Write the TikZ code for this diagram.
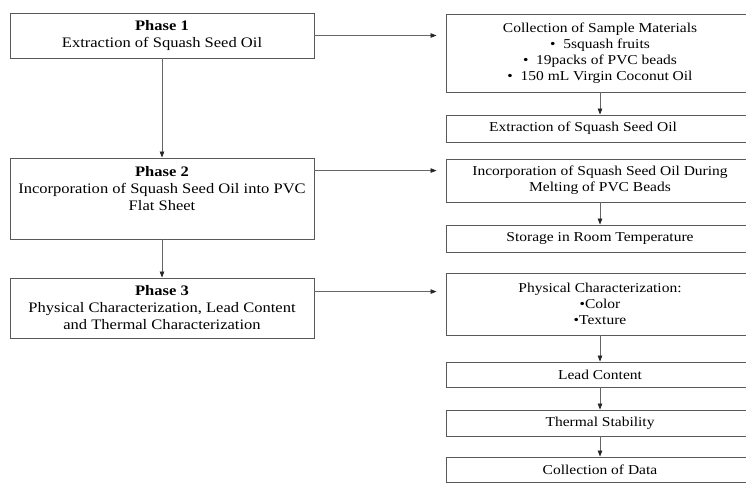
\documentclass[tikz,border=0pt]{standalone}
\usepackage{fontspec}
\setmainfont[FakeStretch=1.14]{Liberation Serif}
\usetikzlibrary{arrows.meta,calc}
\begin{document}
\begin{tikzpicture}[x=1pt,y=-1pt,
  box/.style={draw=black!65, line width=0.9pt, rectangle, inner sep=0pt, align=center},
  lbox/.style={box, minimum width=304pt, font=\fontsize{14.5}{17}\selectfont},
  rbox/.style={box, minimum width=308pt, font=\fontsize{13.6}{16}\selectfont},
  txt/.style={inner sep=0pt, align=center, font=\fontsize{14.5}{17}\selectfont},
  conn/.style={draw=black!60, line width=0.8pt, -{Triangle[length=6pt,width=4.5pt,color=black!85]}}]
\useasboundingbox (0,0) rectangle (746,483);
\clip (0,0) rectangle (746,483);
\fill[white] (0,0) rectangle (746,483);
% left column
\node[lbox, minimum height=45pt] (p1) at (162,35.5) {\textbf{Phase 1}\\Extraction of Squash Seed Oil};
\node[box, minimum width=304pt, minimum height=81pt] (p2) at (162,198.5) {};
\node[txt] (p2t) at (162,189) {\textbf{Phase 2}\\Incorporation of Squash Seed Oil into PVC\\Flat Sheet};
\node[lbox, minimum height=60pt] (p3) at (162,308) {\textbf{Phase 3}\\Physical Characterization, Lead Content\\and Thermal Characterization};
% right column
\node[rbox, minimum height=78pt] (r1) at (600,53) {Collection of Sample Materials\\•\ \ 5squash fruits\hspace{30pt}\\•\ \ 19packs of PVC beads\\•\ \ 150 mL Virgin Coconut Oil};
\node[rbox, minimum height=27pt] (r2) at (600,128.5) {Extraction of Squash Seed Oil\hspace{34pt}};
\node[rbox, minimum height=43pt] (r3) at (600,180.5) {Incorporation of Squash Seed Oil During\\Melting of PVC Beads};
\node[rbox, minimum height=27pt] (r4) at (600,238.5) {Storage in Room Temperature};
\node[rbox, minimum height=62pt] (r5) at (600,304) {Physical Characterization:\\•Color\\•Texture};
\node[rbox, minimum height=25pt] (r6) at (600,374.5) {Lead Content};
\node[rbox, minimum height=26pt] (r7) at (600,423) {Thermal Stability};
\node[rbox, minimum height=25pt] (r8) at (600,469.5) {Collection of Data};
% connectors left
\draw[conn] (p1.south) -- (p2.north);
\draw[conn] (p2.south) -- (p3.north);
% horizontal
\coordinate (a1) at (p1.east);
\coordinate (a2) at ($(p2.north east)+(0,13)$);
\coordinate (a3) at ($(p3.north east)+(0,14)$);
\draw[conn, shorten >=9pt] (a1) -- (a1 -| r1.west);
\draw[conn, shorten >=9pt] (a2) -- (a2 -| r3.west);
\draw[conn, shorten >=9pt] (a3) -- (a3 -| r5.west);
% right column connectors
\draw[conn] (r1.south) -- (r2.north);
\draw[conn] (r3.south) -- (r4.north);
\draw[conn] (r5.south) -- (r6.north);
\draw[conn] (r6.south) -- (r7.north);
\draw[conn] (r7.south) -- (r8.north);
\end{tikzpicture}
\end{document}
